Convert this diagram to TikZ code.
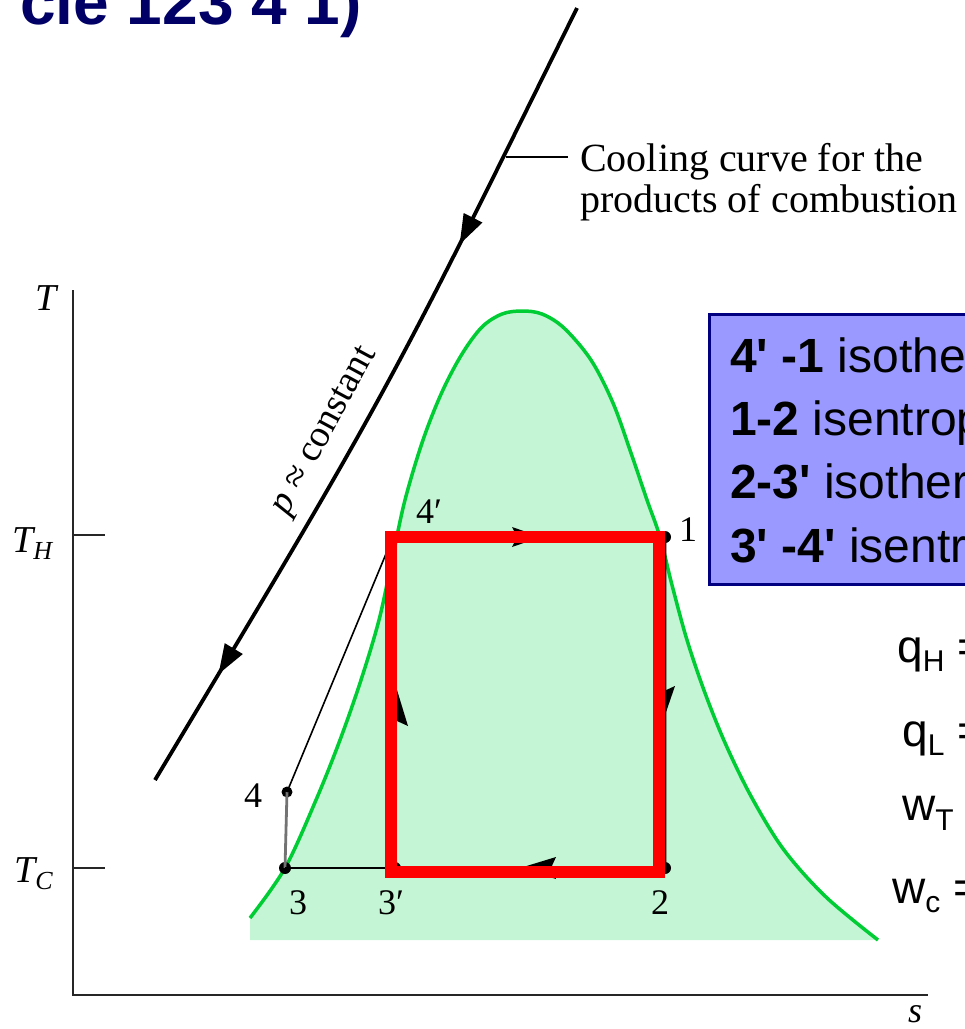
\documentclass[tikz,border=0pt]{standalone}
\usepackage{fontspec}
\setmainfont{Liberation Serif}
\newfontfamily\arial{Liberation Sans}
\usetikzlibrary{arrows.meta,decorations.markings}
\definecolor{navy}{HTML}{000066}
\definecolor{domefill}{HTML}{C4F5D4}
\definecolor{domeline}{HTML}{00CC33}
\definecolor{boxfill}{HTML}{9999FF}
\definecolor{boxline}{HTML}{000080}
\newcommand{\sz}[1]{\fontsize{#1}{#1}\selectfont}
\newcommand{\domepts}{(250,918) (285,868) (316,800) (340,740) (361,680) (379,620) (392,560) (405,500) (423,440) (442,392) (462,354) (482,327) (502,314) (522,311) (542,314) (564,328) (591,360) (613,403) (631,453) (647,500) (660,537) (672,585) (687,640) (705,693) (726,745) (752,798) (784,850) (826,897) (878,940)}
\tikzset{
  axisline/.style={line width=2.2pt, draw=black!85},
  ptdot/.style={circle, fill=black, inner sep=0pt, minimum size=12pt},
  ptlabel/.style={inner sep=0pt, anchor=base west, font=\sz{36}},
  cyclebox/.style={draw=red, line width=12pt, line join=miter},
  headtri/.style={fill=black},
  boxtext/.style={inner sep=0pt, anchor=base west, font=\arial\sz{48}},
  eqtext/.style={inner sep=0pt, anchor=base west, font=\arial\sz{46}},
}
\begin{document}
\begin{tikzpicture}[x=1pt,y=-1pt]
\useasboundingbox (0,0) rectangle (965,1029);
\clip (0,0) rectangle (965,1029);

% title (cut off)
\node[inner sep=0pt, anchor=base east, text=navy, font=\arial\bfseries\sz{64}] (title) at (362,24) {cle 123 4 1)};

% dome
\fill[domefill] (250,940) -- plot[smooth, tension=0.55] coordinates {\domepts} -- (878,940) -- cycle;
\draw[domeline, line width=3.5pt] plot[smooth, tension=0.55] coordinates {\domepts};

% axes
\coordinate (ytop) at (73,290);
\coordinate (orig) at (73,995);
\coordinate (xend) at (928,995);
\draw[axisline] (ytop) -- (orig) -- (xend);
\draw[axisline] (73,535) -- (105,535);
\draw[axisline] (73,868) -- (105,868);
\node[inner sep=0pt, anchor=base, font=\itshape\sz{38}] (tlab) at (46,310) {T};
\node[inner sep=0pt, anchor=base west, font=\itshape\sz{38}] (thlab) at (12,552) {T\raisebox{-7pt}{\sz{26}H}};
\node[inner sep=0pt, anchor=base west, font=\itshape\sz{38}] (tclab) at (14,882) {T\raisebox{-7pt}{\sz{26}C}};
\node[inner sep=0pt, anchor=base, font=\itshape\sz{36}] (slab) at (915,1022) {s};

% cooling curve
\coordinate (ctop) at (577,8);
\coordinate (cbot) at (155,780);
\draw[line width=3.8pt, decoration={markings,
   mark=at position 0.30 with {\arrow{Triangle[length=30pt,width=20pt]}},
   mark=at position 0.86 with {\arrow{Triangle[length=30pt,width=20pt]}}},
   postaction={decorate}]
  (ctop) .. controls (386,395) .. (cbot);
\coordinate (lead) at (506,157);
\coordinate (leadend) at (568,157);
\draw[line width=1.6pt] (lead) -- (leadend);
\node[inner sep=0pt, anchor=north west, align=left, font=\fontsize{40}{41}\selectfont] (cool) at (580,143) {Cooling curve for the\\products of combustion};
\node[inner sep=0pt, rotate=61.5, font=\sz{38}] (pconst) at (326,432) {\textit{p} ≈ constant};

% cycle points
\node[ptdot] (n1) at (665,537) {};
\node[ptdot] (n2) at (665,868) {};
\node[ptdot] (n3) at (285,868) {};
\node[ptdot] (n3p) at (395,868) {};
\node[ptdot, minimum size=11pt] (n4) at (287,792) {};
\node[ptdot, minimum size=6pt] (n4p) at (393,537) {};
\draw[line width=2.8pt, draw=black!55] (n3.center) -- (n4.center);
\draw[line width=1.6pt] (n4.center) -- (n4p.center);
\draw[line width=2.6pt] (n3.center) -- (n3p.center);
\draw[line width=2.6pt] (n4p.center) -- (n1.center) -- (n2.center) -- (n3p.center) -- cycle;

% original cycle arrowheads
\fill[headtri] (512,527) -- (541,537) -- (512,547) -- (517,537) -- cycle;
\fill[headtri] (653,686) -- (664,718) -- (675,686) -- (664,691) -- cycle;
\fill[headtri] (386,726) -- (397,690) -- (408,726) -- (397,721) -- cycle;
\fill[headtri] (556,857) -- (520,868) -- (556,879) -- (551,868) -- cycle;

% point labels
\node[ptlabel] (l4p) at (416,523) {4′};
\node[ptlabel] (l1) at (679,541) {1};
\node[ptlabel] (l4) at (244,807) {4};
\node[ptlabel] (l3) at (289,914) {3};
\node[ptlabel] (l3p) at (378,914) {3′};
\node[ptlabel] (l2) at (651,914) {2};

% red cycle rectangle
\coordinate (r4p) at (391,536.5);
\coordinate (r1) at (659,536.5);
\coordinate (r2) at (659,872);
\coordinate (r3p) at (391,872);
\draw[cyclebox] (r4p) -- (r1) -- (r2) -- (r3p) -- cycle;

% process box
\draw[fill=boxfill, draw=boxline, line width=3pt] (709.5,314.5) rectangle (990,584);
\node[boxtext] (b1) at (730,372) {\textbf{4\textquotesingle\ -1} isothe};
\node[boxtext] (b2) at (730,435) {\textbf{1-2} isentrop};
\node[boxtext] (b3) at (730,498) {\textbf{2-3\textquotesingle} isother};
\node[boxtext] (b4) at (730,562) {\textbf{3\textquotesingle\ -4\textquotesingle} isentr};

% equations (cut off)
\node[eqtext] (qh) at (897,662) {q\raisebox{-9pt}{\sz{30}H} =};
\node[eqtext] (ql) at (902,746) {q\raisebox{-9pt}{\sz{30}L} =};
\node[eqtext] (wt) at (902,820) {w\raisebox{-10pt}{\sz{30}T}};
\node[eqtext] (wc) at (892,903) {w\raisebox{-9pt}{\sz{30}c} =};
\end{tikzpicture}
\end{document}
